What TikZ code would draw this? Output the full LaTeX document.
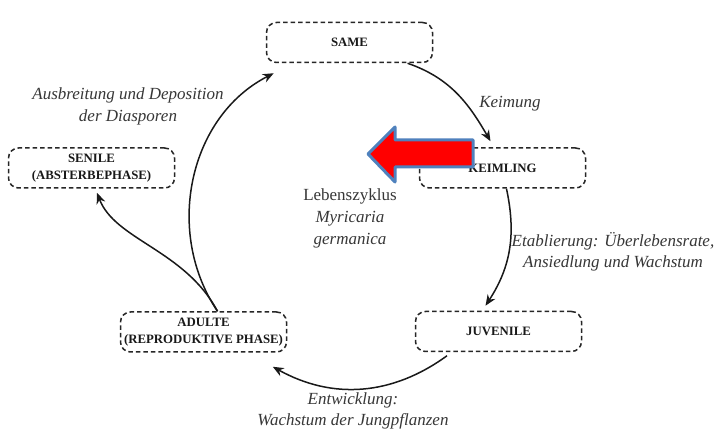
\documentclass[tikz,border=0pt]{standalone}
\usepackage{fontspec}
\setmainfont{Liberation Serif}
\usetikzlibrary{arrows.meta}
\definecolor{arrowblue}{RGB}{79,129,189}
\definecolor{labelgray}{RGB}{55,55,55}
\tikzset{
  stage/.style={draw=black!85, line width=1.5pt, dash pattern=on 4.5pt off 3pt,
    rounded corners=10pt, minimum width=166pt, minimum height=40pt, inner sep=0pt,
    align=center, font=\fontsize{12.8}{17}\selectfont\bfseries, text=black!90},
  lbl/.style={align=center, font=\fontsize{17}{21.5}\selectfont\itshape, text=labelgray, inner sep=0pt},
  cyc/.style={line width=1.5pt, draw=black!90, -{Stealth[length=11pt,width=9pt]}}
}
\begin{document}
\begin{tikzpicture}[x=1pt,y=-1pt]
\useasboundingbox (0,0) rectangle (718,430);
\fill[white] (0,0) rectangle (718,430);

\node[stage] (same) at (349.5,42.5) {SAME};
\node[stage] (keim) at (502.5,168) {KEIMLING};
\node[stage] (juv)  at (498.5,331.5) {JUVENILE};
\node[stage] (adu)  at (203.5,332) {ADULTE\\(REPRODUKTIVE PHASE)};
\node[stage] (sen)  at (91.5,168) {SENILE\\(ABSTERBEPHASE)};

\draw[cyc] ([xshift=58pt]same.south) to[out=-19,in=120] ([xshift=-12pt,yshift=6pt]keim.north);
\draw[cyc] ([xshift=4pt]keim.south) to[out=-78,in=57] ([xshift=-13pt,yshift=5pt]juv.north);
\draw[cyc] ([xshift=-51.5pt,yshift=-3.5pt]juv.south) to[out=-144,in=-29] ([xshift=-14.5pt,yshift=-14pt]adu.south east);
\draw[cyc] ([xshift=14pt]adu.north) to[out=124,in=-153] ([xshift=8pt,yshift=-10pt]same.south west);
\draw[cyc] ([xshift=14pt]adu.north) .. controls (185,250) and (115,240) .. ([xshift=5.5pt,yshift=-4pt]sen.south);

\node[lbl] (lkeim) at (510,104) {Keimung};
\node[lbl] (letab) at (613,252) {Etablierung: Überlebensrate,\\Ansiedlung und Wachstum};
\node[lbl] (lentw) at (353,411) {Entwicklung:\\Wachstum der Jungpflanzen};
\node[lbl] (lausb) at (128,106.5) {Ausbreitung und Deposition\\der Diasporen};
\node[lbl, font=\fontsize{17}{22}\selectfont] (lcent) at (350,218) {Lebenszyklus\\\textit{Myricaria}\\\textit{germanica}};

\draw[line width=3pt, draw=arrowblue, fill=red, line join=round]
  (368,154) -- (395,127) -- (395,140) -- (473,140) -- (473,167) -- (395,167) -- (395,182) -- cycle;
\end{tikzpicture}
\end{document}
